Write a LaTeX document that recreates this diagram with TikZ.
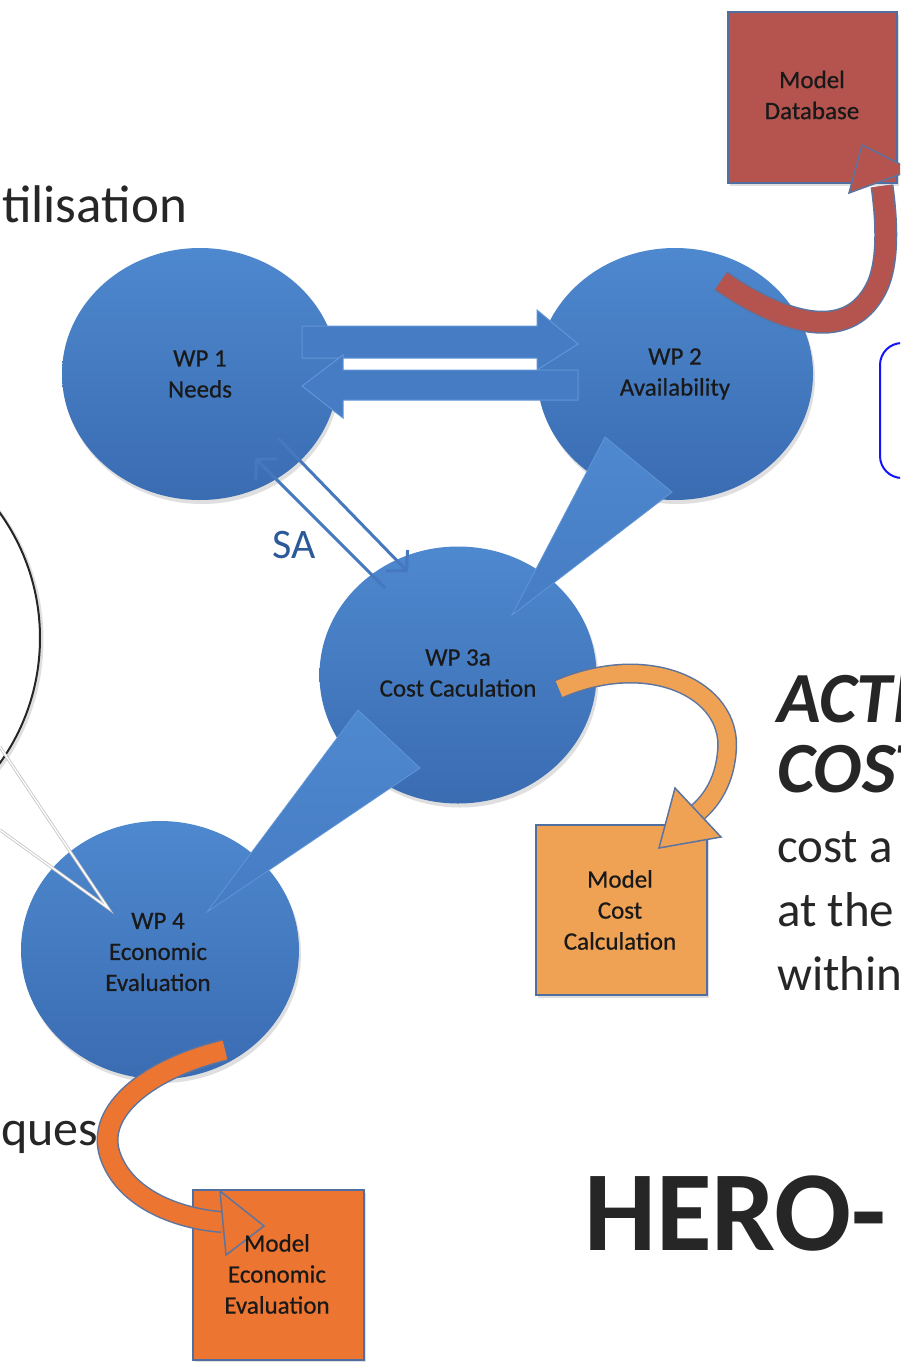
\documentclass[tikz,border=0pt]{standalone}
\usepackage{fontspec}
\setmainfont{Carlito}
\newfontfamily\labelfont[FakeBold=0.6]{Carlito}
\usetikzlibrary{shapes.geometric,shadows,arrows.meta}
\definecolor{wpTop}{RGB}{78,136,206}
\definecolor{wpBot}{RGB}{58,108,178}
\definecolor{wpMid}{RGB}{70,124,196}
\definecolor{wpEdge}{RGB}{96,150,214}
\definecolor{saBlue}{RGB}{70,120,190}
\definecolor{saText}{RGB}{44,90,152}
\definecolor{labeltext}{RGB}{25,25,25}
\definecolor{darktext}{RGB}{38,38,38}
\definecolor{boxline}{RGB}{80,110,160}
\definecolor{bandline}{RGB}{92,116,160}
\definecolor{dbfill}{RGB}{181,84,79}
\definecolor{ccfill}{RGB}{239,161,84}
\definecolor{eefill}{RGB}{237,117,50}
\definecolor{rrblue}{RGB}{20,20,250}
\begin{document}
\begin{tikzpicture}[x=1pt,y=-1pt,
  wpcircle/.style={ellipse, draw=none, top color=wpTop, bottom color=wpBot,
     inner sep=0pt, drop shadow={opacity=0.25,shadow xshift=2pt,shadow yshift=-4pt}},
  wplabel/.style={font=\labelfont\fontsize{25}{31}\selectfont, align=center, text=labeltext, inner sep=0pt},
  modelbox/.style={rectangle, draw=boxline, line width=2pt, inner sep=0pt,
     drop shadow={opacity=0.25,shadow xshift=2pt,shadow yshift=-3pt}},
  blockarrow/.style={fill=wpMid, draw=wpEdge, line width=1pt, line join=miter},
  wedge/.style={top color=wpTop, bottom color=wpMid, draw=wpEdge, line width=0.8pt},
  saarrow/.style={draw=saBlue, line width=3pt, -{Straight Barb[length=14pt,width=30pt,line width=3pt]}},
  bandhead/.style={draw=bandline, line width=1.5pt, line join=miter},
  bigtext/.style={font=\fontsize{53}{60}\selectfont, text=darktext, inner sep=0pt},
  bodytext/.style={font=\fontsize{49}{49}\selectfont, text=darktext, inner sep=0pt},
  headtext/.style={font=\fontsize{72}{72}\selectfont\bfseries\itshape, text=darktext, inner sep=0pt},
  herotext/.style={font=\fontsize{114}{114}\selectfont\bfseries, text=darktext, inner sep=0pt}
]
\useasboundingbox (0,0) rectangle (900,1362);
\clip (0,0) rectangle (900,1362);
\fill[white] (0,0) rectangle (900,1362);

% left partial circle and callout lines
\draw[gray!25, line width=3pt] (-173,640) circle[radius=215];
\draw[black!85, line width=2pt] (-175,638) circle[radius=215];
\coordinate (clA) at (0,747);
\coordinate (clB) at (0,830);
\coordinate (clT) at (108,908);

% texts at left
\node[bigtext, anchor=base west] (tutil) at (2,222) {tilisation};
\node[bodytext, font=\fontsize{50}{50}\selectfont, anchor=base west] (tques) at (1,1145) {ques};

% circles
\node[wpcircle, minimum width=276pt, minimum height=252pt] (wp1) at (200,374) {};
\node[wpcircle, minimum width=276pt, minimum height=252pt] (wp2) at (675,374) {};
\node[wpcircle, minimum width=277pt, minimum height=257pt] (wp3) at (458,675) {};
\node[wpcircle, minimum width=278pt, minimum height=258pt] (wp4) at (160,950) {};

% callout lines over WP4
\draw[gray!45, line width=3pt] (clA) -- (clT) -- (clB);
\draw[white, line width=1.3pt] (clA) -- (clT) -- (clB);

% block arrows WP1 <-> WP2
\draw[blockarrow] (302,326) -- (537,326) -- (537,310) -- (578,344) -- (537,370) -- (537,358) -- (302,358) -- cycle;
\draw[blockarrow] (578,370) -- (343,370) -- (343,355) -- (302,386) -- (343,418) -- (343,400) -- (578,400) -- cycle;

% wedges
\draw[wedge] (605,437) -- (672,492) -- (512,615) -- cycle;
\draw[wedge] (358,710) -- (420,768) -- (207,912) -- cycle;

% SA arrows
\coordinate (saAs) at (385,588);
\coordinate (saAe) at (255,458);
\coordinate (saBs) at (278,438);
\coordinate (saBe) at (408,572);
\draw[saarrow] (saAs) -- (saAe);
\draw[saarrow] (saBs) -- (saBe);
\node[font=\fontsize{42}{42}\selectfont, text=saText, inner sep=0pt] (sa) at (294,545) {SA};

% circle labels
\node[wplabel] (wp1t) at (wp1.center) {WP 1\\Needs};
\node[wplabel] (wp2t) at (wp2.center) {WP 2\\Availability};
\node[wplabel] (wp3t) at (458,673) {WP 3a\\Cost Caculation};
\node[wplabel] (wp4t) at (158,952) {WP 4\\Economic\\Evaluation};

% model boxes
\node[modelbox, fill=dbfill, minimum width=169pt, minimum height=171pt] (db) at (812.5,97.5) {};
\node[modelbox, fill=ccfill, minimum width=171pt, minimum height=170pt] (cc) at (621.5,910) {};
\node[modelbox, fill=eefill, minimum width=171pt, minimum height=170pt] (ee) at (278.5,1275) {};

% database arrow
\coordinate (dbTail) at (721,281);
\coordinate (dbEnd) at (882,186);
\draw[line width=20pt, draw=dbfill, preaction={draw=bandline, line width=23pt}]
  (dbTail) .. controls (780,322) and (852,348) .. (879,282) .. controls (889,255) and (886,215) .. (dbEnd);
\draw[bandhead, fill=dbfill] (849,193) -- (862,145) -- (912,170) -- cycle;

% cost arrow
\coordinate (ccTail) at (559,689);
\coordinate (ccEnd) at (698,812);
\draw[line width=17pt, draw=ccfill, preaction={draw=bandline, line width=20pt}]
  (ccTail) .. controls (650,650) and (732,690) .. (727,750) .. controls (725,780) and (712,800) .. (ccEnd);
\draw[bandhead, fill=ccfill] (675,788) -- (721,837) -- (659,848) -- cycle;

% economic arrow
\coordinate (eeTail) at (225,1050);
\coordinate (eeEnd) at (222,1222);
\draw[line width=19pt, draw=eefill, preaction={draw=bandline, line width=22pt}]
  (eeTail) .. controls (150,1068) and (95,1110) .. (110,1155) .. controls (125,1200) and (180,1219) .. (eeEnd);
\draw[bandhead, fill=eefill] (220,1191) -- (264,1226) -- (226,1255) -- cycle;

% box labels
\node[wplabel] (dbt) at (812,95) {Model\\Database};
\node[wplabel] (cct) at (620,910) {Model\\Cost\\Calculation};
\node[wplabel] (eet) at (277,1274) {Model\\Economic\\Evaluation};

% right blue rounded rectangle
\draw[rrblue, line width=2pt, rounded corners=22pt] (880,343) rectangle (940,478);

% right texts
\node[headtext, anchor=base west] (act) at (777,722) {ACTI};
\node[headtext, anchor=base west] (cos) at (777,792) {COST};
\node[bodytext, anchor=base west] (r1) at (777,862) {cost a};
\node[bodytext, anchor=base west] (r2) at (777,926) {at the};
\node[bodytext, anchor=base west] (r3) at (777,990) {within};
\node[herotext, anchor=base west] (hero) at (584,1250) {HERO-};
\end{tikzpicture}
\end{document}
